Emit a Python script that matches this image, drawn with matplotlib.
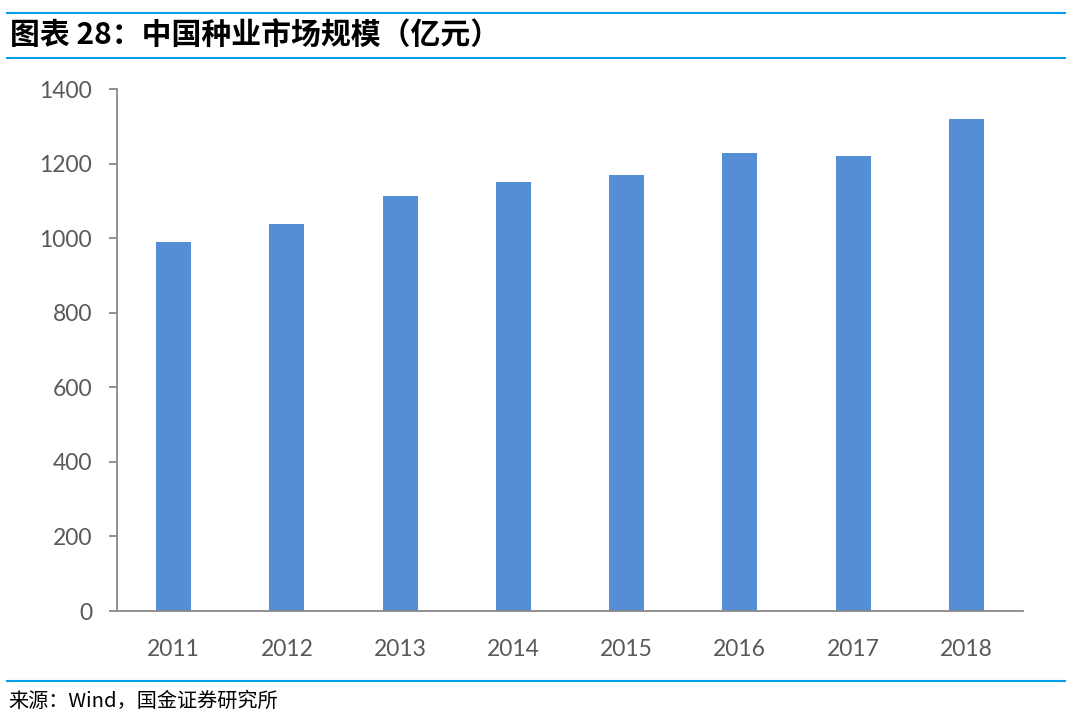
import numpy as np
import matplotlib
matplotlib.use('Agg')
import matplotlib.pyplot as plt
from matplotlib.lines import Line2D

plt.rcParams['font.family'] = ['Noto Sans CJK SC', 'DejaVu Sans']

years	= ['2011', '2012', '2013', '2014', '2015', '2016', '2017', '2018']
scale	= [990, 1038, 1113, 1150, 1170, 1229, 1221, 1320]
yticks	= [0, 200, 400, 600, 800, 1000, 1200, 1400]

title	= '图表 28：中国种业市场规模（亿元）'
source	= '来源：Wind，国金证券研究所'

fig = plt.figure(figsize=(10.8, 7.2), dpi=100)
ax = fig.add_axes([117/1080, 1-611/720, (1023-117)/1080, (611-89)/720])

x = np.arange(len(years))
ax.bar(x, scale, width=0.31, color='#558ed5', zorder=2)
ax.set_xlim(-0.5, len(years)-0.5)
ax.set_ylim(0, 1400)
ax.set_yticks(yticks)
ax.set_xticks(x)
ax.set_xticklabels(years)

for s in ['top', 'right']: ax.spines[s].set_visible(False)
for s in ['left', 'bottom']:
	ax.spines[s].set_color('#888888')
	ax.spines[s].set_linewidth(1.3)
for lab in ax.get_xticklabels() + ax.get_yticklabels(): lab.set_family(['Lato', 'DejaVu Sans'])
ax.tick_params(axis='y', length=6, color='#888888', width=1.3, labelsize=16.5, labelcolor='#595959', pad=12)
ax.tick_params(axis='x', length=0, labelsize=16.5, labelcolor='#595959', pad=20)

# blue rules of the report frame
for yy in [13, 58, 681]:
	fig.add_artist(Line2D([7/1080, 1065/1080], [1-yy/720, 1-yy/720], color='#00a0e9', lw=1.5))

fig.text(10/1080, 1-36/720, title, fontsize=21.5, fontweight='bold', style='italic', va='center', ha='left', color='black')
fig.text(8/1080, 1-701/720, source, fontsize=14.5, va='center', ha='left', color='black')

plt.savefig('out.png', dpi=100)
